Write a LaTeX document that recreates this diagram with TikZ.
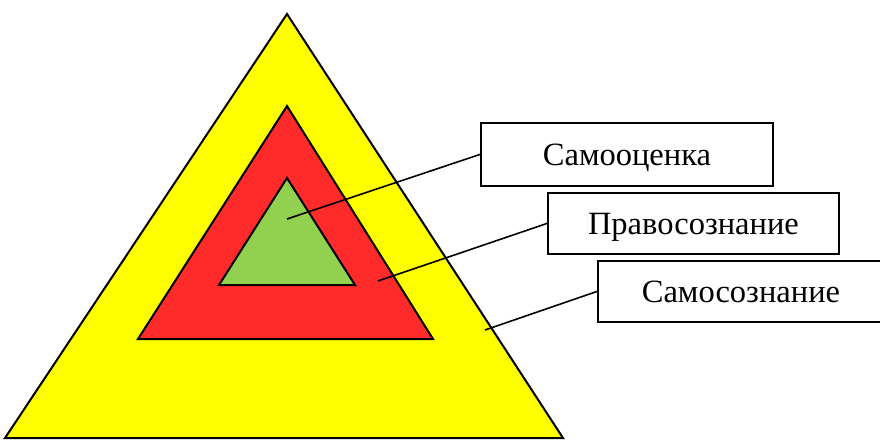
\documentclass[tikz,border=0pt]{standalone}
\usepackage{fontspec}
\setmainfont{Liberation Serif}
\usetikzlibrary{calc}
\definecolor{cOuter}{HTML}{FFFF00}
\definecolor{cMid}{HTML}{FF2A2A}
\definecolor{cInner}{HTML}{92D050}

\begin{document}
\begin{tikzpicture}[
    x=1pt, y=-1pt,
    tri/.style={draw=black, line width=2pt, line join=miter},
    caja/.style={draw=black, line width=1.9pt, fill=white, anchor=north west,
                 inner sep=0pt, text height=26pt, text depth=4pt,
                 font=\fontsize{32.5}{34}\selectfont},
    guia/.style={draw=black, line width=1.6pt},
]
\useasboundingbox (0,0) rectangle (880,441);
\clip (0,0) rectangle (880,441);

% ===================== Pirámide =====================
\draw[tri, fill=cOuter] (287,14) -- (5,438) -- (563,438) -- cycle;
\draw[tri, fill=cMid]   (287,106) -- (138,339) -- (433,339) -- cycle;
\draw[tri, fill=cInner] (287,178) -- (219,285) -- (355,285) -- cycle;

% puntos de partida de las guías
\coordinate (pInner) at (287,219);
\coordinate (pMid)   at (378,281);
\coordinate (pOuter) at (485,330);

% ===================== Rótulos =====================
\node[caja, minimum width=292, minimum height=63] (autoval) at (480,122) {Самооценка};
\node[caja, minimum width=291, minimum height=61] (derecho) at (547,192) {Правосознание};
\node[caja, minimum width=300, minimum height=61] (autocon) at (597,260) {\hspace*{-14pt}Самосознание};

% ===================== Guías =====================
\draw[guia] (pInner) -- (autoval.west);
\draw[guia] (pMid)   -- (derecho.west);
\draw[guia] (pOuter) -- (autocon.west);

\end{tikzpicture}
\end{document}
